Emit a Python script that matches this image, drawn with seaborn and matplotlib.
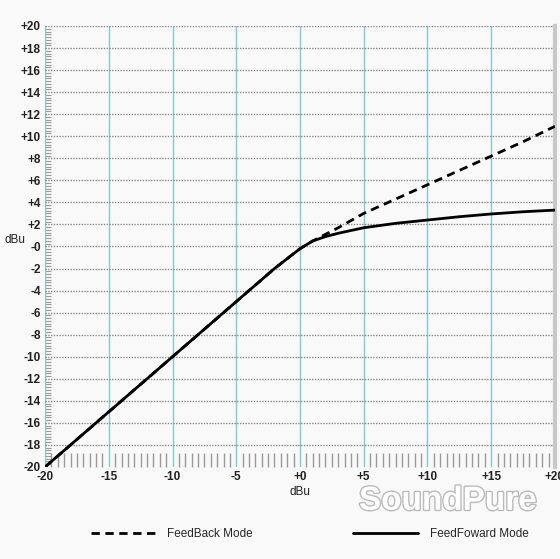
import matplotlib
matplotlib.use('Agg')
import matplotlib.pyplot as plt
import matplotlib.patheffects as pe
from matplotlib.lines import Line2D
import numpy as np
import pandas as pd
import seaborn as sns

# input level (dBu) and output level (dBu) for the two detector modes
x_in = [-20, -15, -10, -5, -2, -1, 0, 1, 2, 3, 5, 7.5, 10, 12.5, 15, 17.5, 20]
feedback = [-20, -15, -10, -5, -2, -1.1, -0.2, 0.5, 1.1, 1.7, 3.0, 4.3, 5.6, 6.9, 8.2, 9.5, 10.9]
feedforward = [-20, -15, -10, -5, -2, -1.1, -0.2, 0.5, 0.9, 1.2, 1.7, 2.1, 2.4, 2.7, 2.95, 3.15, 3.3]
modes = ['FeedBack Mode', 'FeedFoward Mode']

xticks = [-20, -15, -10, -5, 0, 5, 10, 15, 20]
xlabels = ['-20', '-15', '-10', '-5', '+0', '+5', '+10', '+15', '+20']
yticks = list(range(-20, 21, 2))
ylabels = ['+%d' % v if v > 0 else ('-0' if v == 0 else str(v)) for v in yticks]

df = pd.DataFrame({
    'input': x_in * 2,
    'output': feedback + feedforward,
    'mode': [modes[0]] * len(x_in) + [modes[1]] * len(x_in),
})

sns.set_style('white')
plt.rcParams['font.family'] = ['Liberation Sans', 'DejaVu Sans']
bg = '#f9f9f9'

fig = plt.figure(figsize=(5.6, 5.59), dpi=100, facecolor=bg)
ax = fig.add_axes([0.0804, 0.1646, 0.9106, 0.7889], facecolor=bg)

sns.lineplot(data=df, x='input', y='output', style='mode',
             dashes={modes[0]: (3, 2), modes[1]: ''}, color='black',
             linewidth=2, legend=False, ax=ax, zorder=5)

ax.set_xlim(-20, 20)
ax.set_ylim(-20, 20)

# grid: teal verticals every 5, gray dotted horizontals every 2
for v in xticks:
    ax.axvline(v, color='#86c8cc', lw=1, zorder=1)
for v in yticks[1:]:
    ax.axhline(v, color='#8a8a8a', lw=1, ls=(0, (1, 1)), zorder=1)

for s in ['top', 'left', 'bottom']:
    ax.spines[s].set_visible(False)
ax.spines['right'].set_color('#c8c8c8')
ax.spines['right'].set_linewidth(3)

ax.set_xticks(xticks)
ax.set_xticklabels(xlabels)
ax.set_yticks(yticks)
ax.set_yticklabels(ylabels)
ax.tick_params(axis='both', which='major', length=0, labelsize=8.5, pad=3)
for t in ax.get_yticklabels() + ax.get_xticklabels():
    t.set_fontweight('bold')
    t.set_color('#222222')

# minor ticks drawn inside
ax.set_xticks(np.arange(-20, 20.01, 0.5), minor=True)
ax.set_yticks(np.arange(-20, 20.01, 0.25), minor=True)
ax.tick_params(axis='x', which='minor', bottom=True, direction='in', length=10,
               width=1, color='#9a9a9a')
ax.tick_params(axis='y', which='minor', left=True, direction='in', length=4,
               width=0.8, color='#9a9a9a')

ax.set_xlabel('dBu', fontsize=8.5, labelpad=2, color='#222222')
ax.set_ylabel('dBu', fontsize=8.5, rotation=0, color='#222222')
ax.yaxis.set_label_coords(-0.058, 0.5)

handles = [Line2D([], [], color='black', lw=2, dashes=(3, 2)),
           Line2D([], [], color='black', lw=2)]
fig.legend(handles, modes, loc='center', bbox_to_anchor=(0.553, 0.045), ncol=2,
           frameon=False, fontsize=8.5, handlelength=5.5, handletextpad=1.0,
           columnspacing=8.5)

fig.text(0.80, 0.131, 'SoundPure', fontsize=24, color='white', ha='center', va='top',
         fontweight='bold', path_effects=[pe.withStroke(linewidth=2, foreground='#bbbbbb')])

fig.savefig('out.png', dpi=100, facecolor=bg)
